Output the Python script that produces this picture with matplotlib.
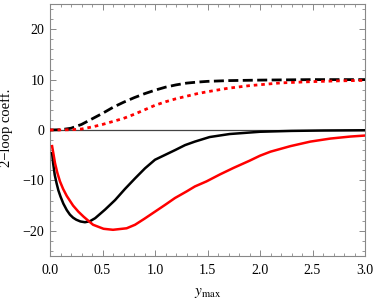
import matplotlib
matplotlib.use("Agg")
import matplotlib.pyplot as plt
from matplotlib.ticker import MultipleLocator

plt.rcParams['font.family'] = ['Liberation Serif', 'DejaVu Serif']
plt.rcParams['mathtext.fontset'] = 'stix'

# black dashed
bd_x = [0.0, 0.1, 0.2, 0.3, 0.4, 0.5, 0.6, 0.7, 0.8, 0.9, 1.0, 1.1, 1.2, 1.3, 1.4, 1.5, 1.7, 2.0, 2.5, 3.0]
bd_y = [0.0, 0.05, 0.35, 1.1, 2.2, 3.3, 4.5, 5.5, 6.4, 7.2, 7.9, 8.5, 8.95, 9.3, 9.5, 9.65, 9.8, 9.9, 10.0, 10.0]

# red dotted
rd_x = [0.0, 0.2, 0.3, 0.4, 0.5, 0.6, 0.7, 0.8, 0.9, 1.0, 1.1, 1.2, 1.3, 1.4, 1.5, 1.7, 1.9, 2.2, 2.5, 2.75, 3.0]
rd_y = [0.0, 0.05, 0.2, 0.6, 1.1, 1.7, 2.3, 3.1, 4.0, 4.9, 5.6, 6.2, 6.7, 7.2, 7.6, 8.3, 8.8, 9.35, 9.6, 9.75, 9.85]

# black solid
bs_x = [0.02, 0.03, 0.045, 0.063, 0.08, 0.1, 0.127, 0.16, 0.19, 0.22, 0.25, 0.29, 0.333, 0.38, 0.43, 0.524, 0.62,
        0.714, 0.81, 0.905, 1.0, 1.095, 1.19, 1.286, 1.38, 1.52, 1.71, 2.0, 2.3, 2.6, 3.0]
bs_y = [-4.6, -6.6, -8.9, -10.6, -12.0, -13.2, -14.6, -15.9, -16.8, -17.4, -17.8, -18.15, -18.3, -18.1, -17.5, -15.8,
        -13.9, -11.7, -9.6, -7.6, -5.9, -4.95, -4.0, -3.0, -2.3, -1.4, -0.8, -0.35, -0.18, -0.1, -0.05]

# red solid
rs_x = [0.02, 0.035, 0.048, 0.07, 0.095, 0.125, 0.16, 0.22, 0.27, 0.32, 0.41, 0.51, 0.60, 0.73, 0.81, 0.9, 1.0,
        1.1, 1.19, 1.3, 1.38, 1.49, 1.62, 1.75, 1.9, 2.0, 2.1, 2.29, 2.48, 2.67, 2.86, 3.0]
rs_y = [-3.2, -5.0, -6.6, -8.5, -10.2, -11.7, -13.1, -15.0, -16.2, -17.2, -18.8, -19.6, -19.8, -19.5, -18.8, -17.6,
        -16.2, -14.8, -13.5, -12.2, -11.2, -10.2, -8.8, -7.5, -6.1, -5.1, -4.3, -3.2, -2.3, -1.7, -1.3, -1.1]

fig = plt.figure(figsize=(3.74, 3.01), dpi=100)
ax = fig.add_axes([50/374, 45/301, 315/374, 252/301])

ax.axhline(0, color='#444444', lw=0.9, zorder=1)
ax.plot(bd_x, bd_y, color='black', lw=2.0, dashes=(3.6, 1.6), zorder=3)
ax.plot(rd_x, rd_y, color='red', lw=2.0, dashes=(1.3, 1.4), zorder=3)
ax.plot(bs_x, bs_y, color='black', lw=1.8, zorder=3, solid_joinstyle='round')
ax.plot(rs_x, rs_y, color='red', lw=1.8, zorder=3, solid_joinstyle='round')

ax.set_xlim(0, 3.0)
ax.set_ylim(-25, 25)
ax.xaxis.set_major_locator(MultipleLocator(0.5))
ax.xaxis.set_minor_locator(MultipleLocator(0.1))
ax.yaxis.set_major_locator(MultipleLocator(10))
ax.yaxis.set_minor_locator(MultipleLocator(2))
ax.xaxis.set_major_formatter(plt.FuncFormatter(lambda v, p: f"{v:.1f}"))
ax.yaxis.set_major_formatter(plt.FuncFormatter(lambda v, p: f"{int(round(v))}".replace('-', '\u2212')))

for s in ax.spines.values():
    s.set_color('#888888')
    s.set_linewidth(0.8)
ax.tick_params(which='both', direction='in', top=True, right=True, color='#888888', labelsize=10)
ax.tick_params(which='major', length=4, width=0.7)
ax.tick_params(which='minor', length=2, width=0.6)
ax.tick_params(axis='x', pad=6)
ax.tick_params(axis='y', pad=4)

ax.set_xlabel(r'$y_{\rm max}$', fontsize=11, labelpad=6)
ax.set_ylabel('2\u2212loop coeff.', fontsize=10.5, labelpad=6)
ax.yaxis.set_label_coords(-0.118, 0.51)

fig.savefig('out.png', dpi=100)
